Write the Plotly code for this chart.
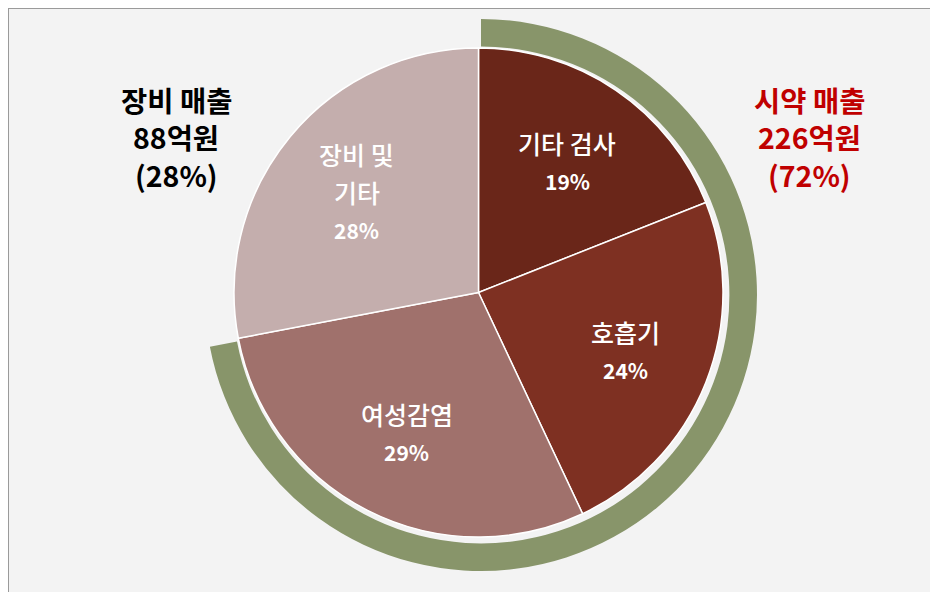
import math
import plotly.graph_objects as go

# 제품군별 매출 비중 (%)
labels = ["기타 검사", "호흡기", "여성감염", "장비 및<br>기타"]
shares = [19, 24, 29, 28]
slice_colors = ["#6A2619", "#7E3022", "#A0716C", "#C4AEAD"]

# 시약 / 장비 구분 (외곽 링)
group_names = ["시약 매출", "장비 매출"]
group_sales = [226, 88]   # 억원
group_shares = [72, 28]

W, H = 938, 592
OFF = 8  # page body margin

def px(x, y):
    # screen pixel -> paper coords
    return (x - OFF) / W, 1 - (y - OFF) / H

def px_domain(x0, x1, y0, y1):
    a, b = px(x0, y1)
    c, d = px(x1, y0)
    return dict(x=[a, c], y=[b, d])

def stacked_text(x, y, lines, gap):
    # 여러 줄 텍스트를 줄 간격을 직접 정해서 쌓기
    n = len(lines)
    for k, (txt, font) in enumerate(lines):
        fig.add_annotation(x=x, y=y, xref="paper", yref="paper", text=txt,
                           showarrow=False, xanchor="center", yanchor="middle",
                           borderpad=0, yshift=((n - 1) / 2 - k) * gap, font=font)

fig = go.Figure()

# 외곽 링: 시약 비중만 초록색
fig.add_trace(go.Pie(
    values=group_shares,
    labels=group_names,
    hole=0.9,
    sort=False,
    direction="clockwise",
    rotation=0,
    marker=dict(colors=["#88956A", "rgba(0,0,0,0)"], line=dict(width=0)),
    textinfo="none",
    hoverinfo="skip",
    showlegend=False,
    domain=px_domain(205, 757, 19, 571),
))

# 안쪽 파이
cx, cy, R = 478.5, 292.5, 244.5
fig.add_trace(go.Pie(
    values=shares,
    labels=labels,
    sort=False,
    direction="clockwise",
    rotation=0,
    marker=dict(colors=slice_colors, line=dict(color="white", width=1.5)),
    textinfo="none",
    hoverinfo="label+percent",
    showlegend=False,
    domain=px_domain(cx - R, cx + R, cy - R, cy + R),
))

name_font = dict(family="Noto Sans CJK KR", size=25, color="white", weight=500)
pct_font = dict(family="Noto Sans CJK KR", size=21, color="white")

# 조각 라벨 (조각 중앙 각도 기준)
cum = 0
total = sum(shares)
for lab, v in zip(labels, shares):
    ang = math.radians(360 * (cum + v / 2) / total)
    cum += v
    x, y = px(cx + 0.645 * R * math.sin(ang), cy - 0.645 * R * math.cos(ang))
    lines = [(s, name_font) for s in lab.split("<br>")]
    lines.append(("<b>%d%%</b>" % round(100 * v / total), pct_font))
    stacked_text(x, y, lines, 38)

side_texts = [
    (176, group_names[1], group_sales[1], group_shares[1], "#000000"),
    (809, group_names[0], group_sales[0], group_shares[0], "#C00000"),
]
for sx, name, sales, share, col in side_texts:
    f = dict(family="Noto Sans CJK KR", size=28.5, color=col)
    x, y = px(sx, 137)
    stacked_text(x, y, [("<b>%s</b>" % name, f), ("<b>%d억원</b>" % sales, f),
                        ("<b>(%d%%)</b>" % share, f)], 37.5)

# 슬라이드 테두리 (왼쪽, 위)
fig.add_shape(type="line", xref="paper", yref="paper", x0=0, x1=0, y0=0, y1=1,
              line=dict(color="#9A9A9A", width=2), layer="below")
fig.add_shape(type="line", xref="paper", yref="paper", x0=0, x1=1, y0=1, y1=1,
              line=dict(color="#9A9A9A", width=2), layer="below")

fig.update_layout(
    width=W, height=H,
    margin=dict(l=0, r=0, t=0, b=0),
    paper_bgcolor="#F3F3F3",
    plot_bgcolor="#F3F3F3",
)

fig.write_html("out.html")
